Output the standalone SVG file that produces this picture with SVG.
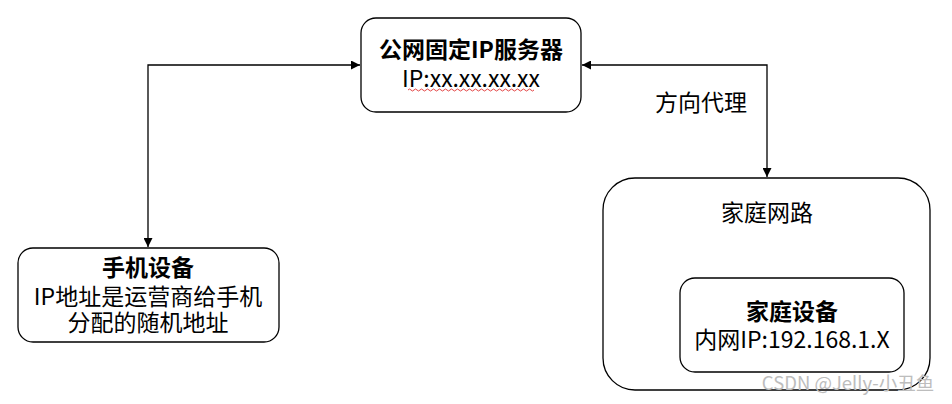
<svg xmlns="http://www.w3.org/2000/svg" width="952" height="404" viewBox="0 0 952 404">
<style>
.box{fill:#fff;stroke:#000;stroke-width:1.3}
.t{font-family:"Noto Sans CJK SC","Noto Sans",sans-serif;font-size:23px;fill:#000;text-anchor:middle}
.b{font-weight:bold}
.c{fill:none;stroke:#000;stroke-width:1.3}
</style>
<defs>
<marker id="ah" viewBox="0 0 10 10" refX="10" refY="5" markerWidth="9" markerHeight="9" markerUnits="userSpaceOnUse" orient="auto-start-reverse">
<path d="M0,0 L10,5 L0,10 z" fill="#000"/>
</marker>
</defs>
<rect width="952" height="404" fill="#fff"/>
<g id="connectors">
<path class="c" d="M148,247 V65 H360" marker-start="url(#ah)" marker-end="url(#ah)"/>
<path class="c" d="M582,65 H767 V177" marker-start="url(#ah)" marker-end="url(#ah)"/>
<text class="t" x="701" y="111">方向代理</text>
</g>
<g id="server">
<rect class="box" x="361" y="18" width="220" height="94" rx="15"/>
<text class="t b" x="471" y="58">公网固定IP服务器</text>
<text class="t" x="471" y="87">IP:xx.xx.xx.xx</text>
<path d="M408,90 q1.5,-2 3,0 t3,0 t3,0 t3,0 t3,0 t3,0 t3,0 t3,0 t3,0 t3,0 t3,0 t3,0 t3,0 t3,0 t3,0 t3,0 t3,0 t3,0 t3,0 t3,0 t3,0 t3,0 t3,0 t3,0 t3,0 t3,0 t3,0 t3,0 t3,0 t3,0 t3,0 t3,0 t3,0 t3,0 t3,0 t3,0 t3,0 t3,0 t3,0 t3,0 t3,0 t3,0" fill="none" stroke="#e03030" stroke-width="0.9"/>
</g>
<g id="phone">
<rect class="box" x="18" y="248" width="261" height="94" rx="15"/>
<text class="t b" x="148" y="276">手机设备</text>
<text class="t" x="148" y="305">IP地址是运营商给手机</text>
<text class="t" x="148" y="331">分配的随机地址</text>
</g>
<g id="home-router">
<rect class="box" x="603" y="178" width="327" height="212" rx="32"/>
<text class="t" x="767" y="221">家庭网路</text>
</g>
<g id="home-device">
<rect class="box" x="680" y="278" width="224" height="94" rx="15"/>
<text class="t b" x="792" y="320">家庭设备</text>
<text class="t" x="792" y="348">内网IP:192.168.1.X</text>
</g>
<text x="848" y="390" font-family="Noto Sans CJK SC, Noto Sans, sans-serif" font-size="18.5" fill="#bdbdbd" text-anchor="middle">CSDN @Jelly-小丑鱼</text>
</svg>
